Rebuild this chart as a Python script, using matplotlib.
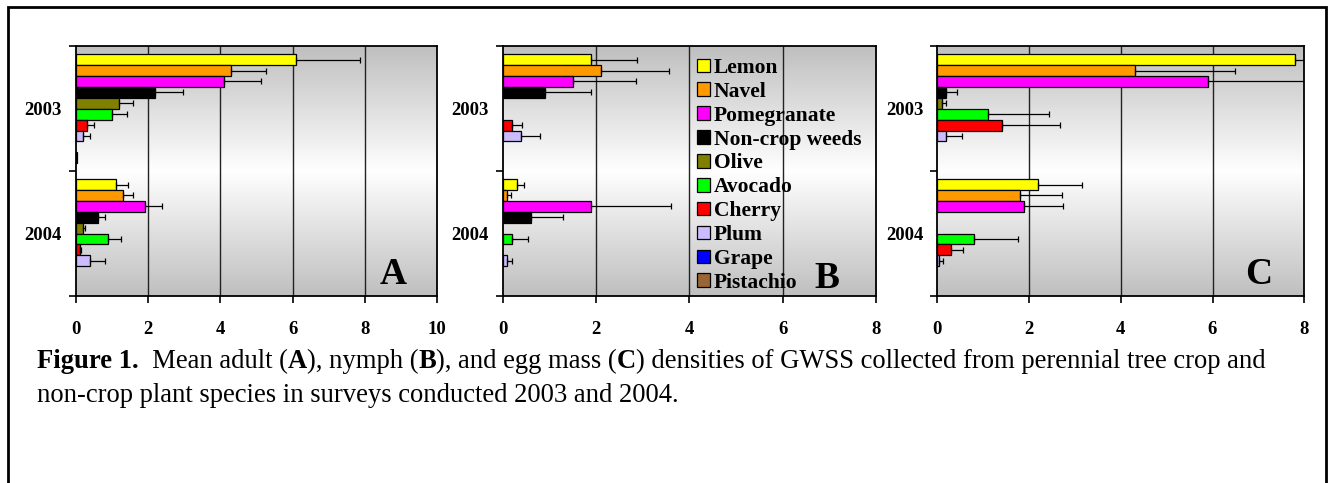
import matplotlib
matplotlib.use("Agg")
import matplotlib.pyplot as plt
from matplotlib.patches import Patch, Rectangle
import numpy as np

plt.rcParams['font.family'] = ['Liberation Serif', 'DejaVu Serif']

years = ['2003', '2004']
species = ['Lemon', 'Navel', 'Pomegranate', 'Non-crop weeds', 'Olive',
           'Avocado', 'Cherry', 'Plum', 'Grape', 'Pistachio']
colors = ['#FFFF00', '#FF9900', '#FF00FF', '#000000', '#808000',
          '#00FF00', '#FF0000', '#CCBBFF', '#0000FF', '#996633']

# A - adults (mean, +SE)
adult_2003 = [6.1, 4.3, 4.1, 2.2, 1.2, 1.0, 0.3, 0.2, 0, 0.03]
adult_2003_se = [1.77, 0.96, 1.03, 0.77, 0.39, 0.4, 0.2, 0.2, 0, 0]
adult_2004 = [1.1, 1.3, 1.9, 0.6, 0.2, 0.9, 0.1, 0.4, 0, 0]
adult_2004_se = [0.33, 0.29, 0.47, 0.2, 0.05, 0.35, 0.04, 0.4, 0, 0]

# B - nymphs
nymph_2003 = [1.9, 2.1, 1.5, 0.9, 0, 0, 0.2, 0.4, 0, 0]
nymph_2003_se = [0.98, 1.47, 1.36, 1.0, 0, 0, 0.22, 0.4, 0, 0]
nymph_2004 = [0.3, 0.1, 1.9, 0.6, 0, 0.2, 0, 0.1, 0, 0]
nymph_2004_se = [0.16, 0.07, 1.71, 0.69, 0, 0.35, 0, 0.1, 0, 0]

# C - egg masses
egg_2003 = [7.8, 4.3, 5.9, 0.2, 0.1, 1.1, 1.4, 0.2, 0, 0]
egg_2003_se = [0.22, 2.19, 2.6, 0.22, 0.1, 1.33, 1.27, 0.34, 0, 0]
egg_2004 = [2.2, 1.8, 1.9, 0, 0, 0.8, 0.3, 0.04, 0, 0]
egg_2004_se = [0.96, 0.91, 0.84, 0, 0, 0.96, 0.27, 0.08, 0, 0]

W, H = 1329, 483
fig = plt.figure(figsize=(W / 100, H / 100), dpi=100)


def rect(left, right, top, bottom):
    return [left / W, 1 - bottom / H, (right - left) / W, (bottom - top) / H]


# page border (open at the bottom)
fig.patches.append(Rectangle((8 / W, -0.1), (1326 - 8) / W, 1.1 - 6.7 / H,
                             transform=fig.transFigure, fill=False,
                             edgecolor='black', lw=2))

grad_t = np.linspace(0, 1, 256)
grad_v = 1 - np.abs(grad_t - 0.5) * 2
gray = 0.75
grad = (gray + (1 - gray) * grad_v)[:, None]

bh = 0.0873


def panel(box, d03, s03, d04, s04, xmax, letter, letter_xy):
    ax = fig.add_axes(box)
    ax.imshow(np.repeat(grad[:, :, None], 3, axis=2), extent=[0, 1, 0, 1],
              transform=ax.transAxes, aspect='auto', zorder=0)
    for j, (vals, errs) in enumerate([(d03, s03), (d04, s04)]):
        for i in range(len(species)):
            y = j + (i - 4.5) * bh
            if vals[i] > 0:
                ax.barh(y, vals[i], height=bh, color=colors[i],
                        edgecolor='black', lw=0.9, zorder=3)
            if errs[i] > 0:
                ax.errorbar(vals[i], y, xerr=[[0], [errs[i]]], fmt='none',
                            ecolor='black', elinewidth=0.9, capsize=2.5,
                            capthick=0.9, zorder=4)
    ax.set_xlim(0, xmax)
    ax.set_ylim(1.5, -0.5)
    ax.set_xticks(range(0, xmax + 1, 2))
    ax.set_yticks([-0.5, 0.5, 1.5])
    ax.set_yticklabels([])
    ax.set_yticks([0, 1], minor=True)
    ax.set_yticklabels(years, minor=True)
    ax.tick_params(axis='y', which='minor', length=0, pad=10,
                   labelsize=13.5)
    ax.tick_params(axis='y', which='major', length=5, width=1.2)
    ax.tick_params(axis='x', length=5, width=1.2, pad=13, labelsize=13.5)
    for lab in ax.get_xticklabels() + ax.get_yticklabels(minor=True):
        lab.set_fontweight('bold')
    for x in range(2, xmax, 2):
        ax.axvline(x, color='#222222', lw=1, zorder=1)
    for sp in ax.spines.values():
        sp.set_linewidth(1.3)
    fig.text(letter_xy[0] / W, 1 - letter_xy[1] / H, letter, fontsize=27,
             fontweight='bold', ha='center', va='center')
    return ax


panel(rect(76, 437, 46.3, 296), adult_2003, adult_2003_se,
      adult_2004, adult_2004_se, 10, 'A', (393, 274))
ax_b = panel(rect(502.7, 876, 46.3, 296), nymph_2003, nymph_2003_se,
             nymph_2004, nymph_2004_se, 8, 'B', (826.7, 279))
panel(rect(937.3, 1304.3, 46.3, 296), egg_2003, egg_2003_se,
      egg_2004, egg_2004_se, 8, 'C', (1259, 275))

handles = [Patch(facecolor=c, edgecolor='black', lw=0.9) for c in colors]
leg = ax_b.legend(handles, species, loc='upper left',
                  bbox_to_anchor=(696.7 / W, 1 - 58 / H),
                  bbox_transform=fig.transFigure, frameon=False, borderpad=0,
                  borderaxespad=0, handlelength=0.6, handleheight=0.6,
                  handletextpad=0.2, labelspacing=0.18,
                  prop={'size': 15.5, 'weight': 'bold'})
leg.set_zorder(5)

# caption, written piece by piece so some words can be bold
caption_1 = [('Figure 1.', 'bold'), ('  Mean adult (', 'normal'),
             ('A', 'bold'), ('), nymph (', 'normal'), ('B', 'bold'),
             ('), and egg mass (', 'normal'), ('C', 'bold'),
             (') densities of GWSS collected from perennial tree crop and',
              'normal')]
caption_2 = 'non-crop plant species in surveys conducted 2003 and 2004.'

renderer = fig.canvas.get_renderer()
x = 37
for txt, wt in caption_1:
    t = fig.text(x / W, 1 - 368 / H, txt, fontsize=19.2, fontweight=wt,
                 va='baseline', ha='left')
    x = t.get_window_extent(renderer).x1
fig.text(37 / W, 1 - 402 / H, caption_2, fontsize=19.2, va='baseline',
         ha='left')

fig.savefig('out.png', dpi=100)
